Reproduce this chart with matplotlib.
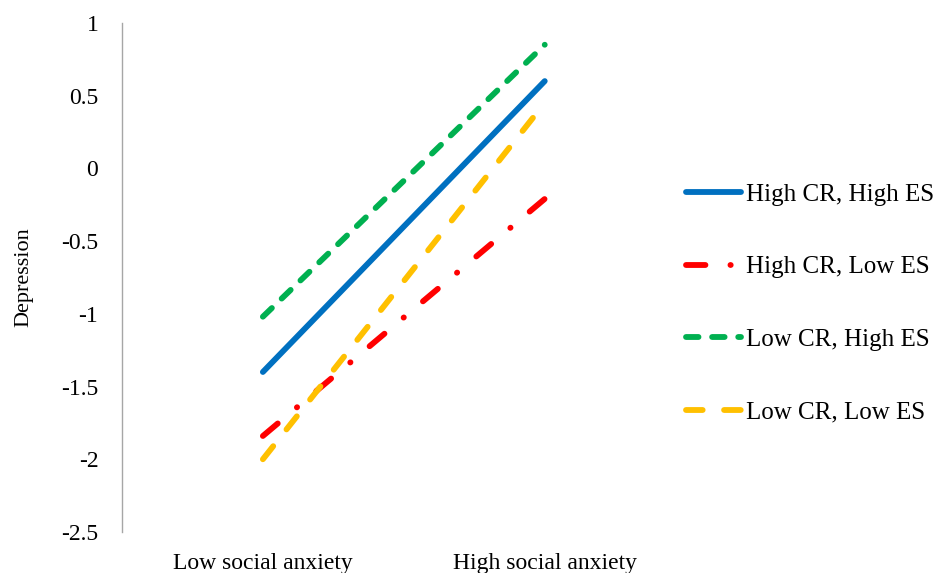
import matplotlib
matplotlib.use('Agg')
import matplotlib.pyplot as plt

# values
groups = ["Low social anxiety", "High social anxiety"]
series = ["High CR, High ES", "High CR, Low ES", "Low CR, High ES", "Low CR, Low ES"]
high_cr_high_es = [-1.40, 0.60]
high_cr_low_es = [-1.84, -0.21]
low_cr_high_es = [-1.02, 0.85]
low_cr_low_es = [-2.00, 0.45]

plt.rcParams['font.family'] = ['Liberation Serif', 'DejaVu Serif']

fig = plt.figure(figsize=(9.38, 5.73), dpi=100)
ax = fig.add_axes([0.130, 0.0716, 0.601, 0.8884])

x = [0.5, 1.5]
lw = 4.2
ax.plot(x, high_cr_high_es, color='#0070c0', lw=lw, solid_capstyle='round',
        label=series[0])
ax.plot(x, high_cr_low_es, color='#ff0000', lw=lw, dash_capstyle='round',
        dashes=(14.0 / lw, 18.0 / lw, 0.2 / lw, 18.0 / lw), label=series[1])
ax.plot(x, low_cr_high_es, color='#00b050', lw=lw, dash_capstyle='round',
        dashes=(9.0 / lw, 9.8 / lw), label=series[2])
ax.plot(x, low_cr_low_es, color='#ffc000', lw=lw, dash_capstyle='round',
        dashes=(12.0 / lw, 15.4 / lw), label=series[3])

ax.set_xlim(0, 2)
ax.set_ylim(-2.5, 1)
ax.set_yticks([-2.5, -2, -1.5, -1, -0.5, 0, 0.5, 1])
ax.set_yticklabels(['-2.5', '-2', '-1.5', '-1', '-0.5', '0', '0.5', '1'])
ax.set_xticks(x)
ax.set_xticklabels(groups)
ax.tick_params(axis='y', length=0, pad=17, labelsize=17)
ax.tick_params(axis='x', length=0, pad=15, labelsize=17)
ax.set_ylabel("Depression", fontsize=16, labelpad=20)

for s in ['top', 'right', 'bottom']:
    ax.spines[s].set_visible(False)
ax.spines['left'].set_color('#a6a6a6')
ax.spines['left'].set_linewidth(1.0)

fig.legend(loc='center left', bbox_to_anchor=(0.731, 0.4704), frameon=False,
           fontsize=18, handlelength=2.2, handletextpad=0.2,
           labelspacing=2.0, borderpad=0, borderaxespad=0)

fig.savefig('out.png', dpi=100)
